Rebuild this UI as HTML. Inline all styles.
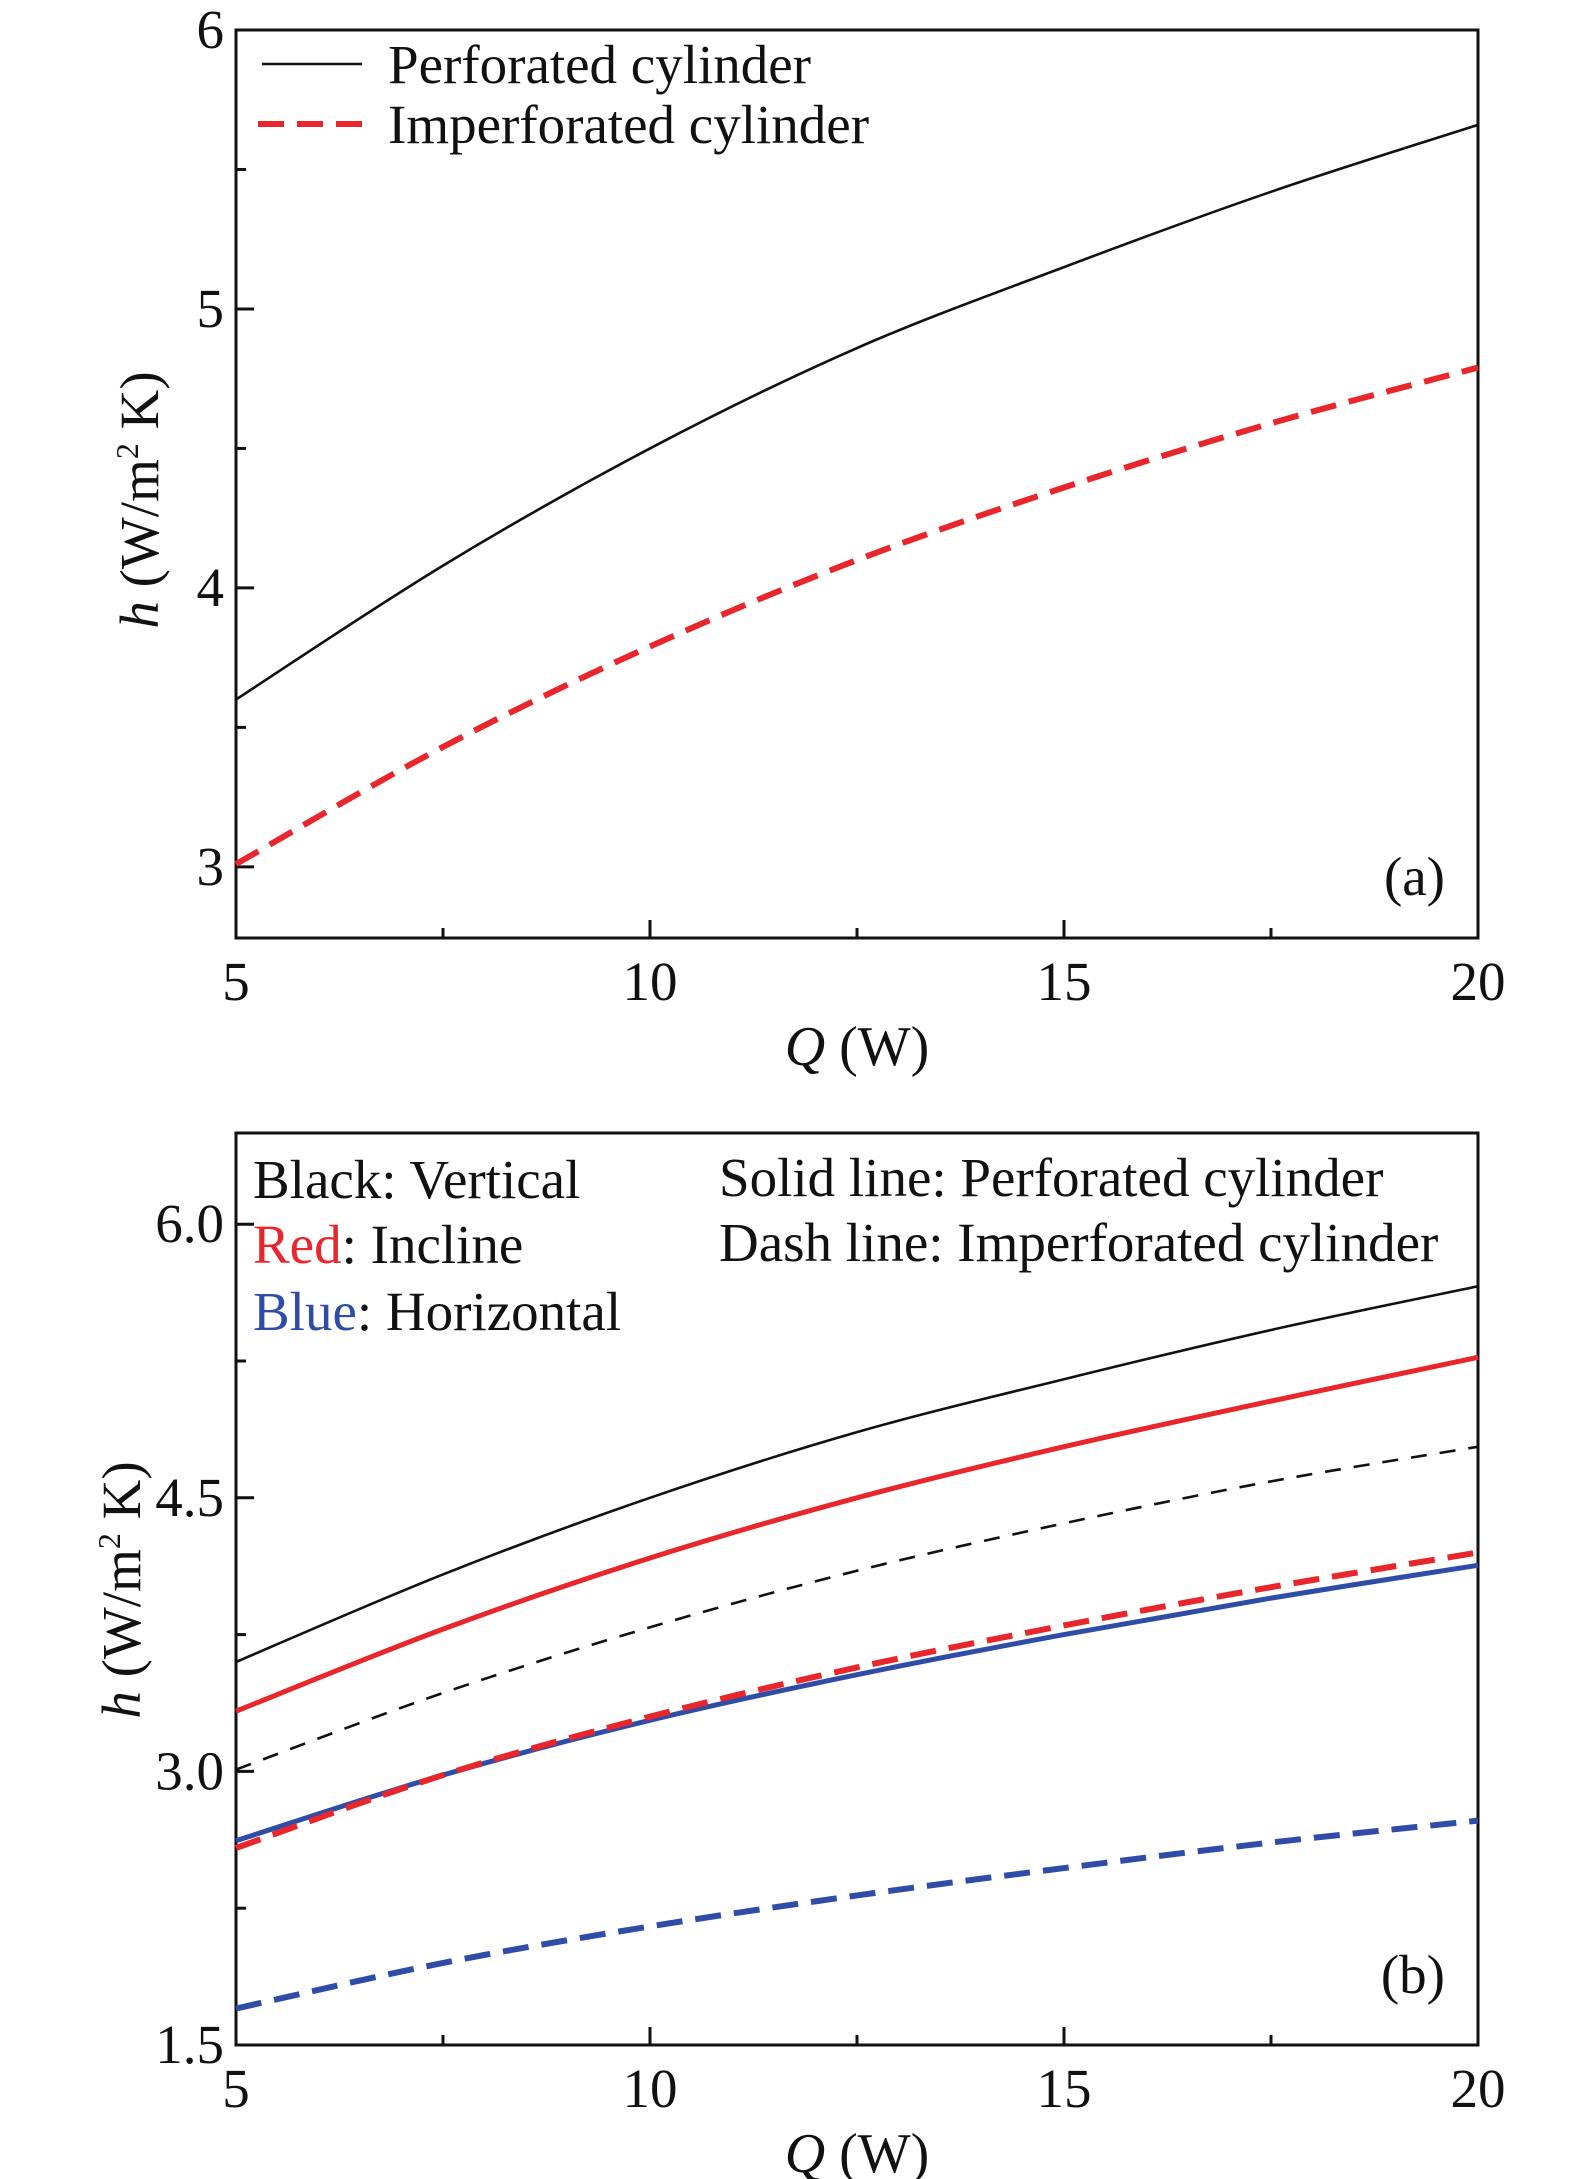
<!DOCTYPE html>
<html><head><meta charset="utf-8"><style>
html,body{margin:0;padding:0;background:#fff;}
svg{display:block;font-family:"Liberation Serif",serif;}
</style></head><body>
<svg id="fig" width="1575" height="2179" viewBox="0 0 1575 2179" xmlns="http://www.w3.org/2000/svg">
<g id="pa"></g>
<g id="pb"></g>
</svg>
<script>
const xValues = [5, 7.5, 10, 12.5, 15, 17.5, 20];
// panel a
const aPerforated   = [3.60, 4.08, 4.50, 4.86, 5.15, 5.42, 5.66];
const aImperforated = [3.01, 3.43, 3.79, 4.10, 4.36, 4.59, 4.79];
const aYTicks = [3, 4, 5, 6];
const aYMinor = [3.5, 4.5, 5.5];
// panel b
const bVertSolid  = [3.60, 4.08, 4.50, 4.86, 5.15, 5.42, 5.66];
const bVertDash   = [3.01, 3.43, 3.79, 4.10, 4.36, 4.59, 4.78];
const bInclSolid  = [3.33, 3.78, 4.17, 4.50, 4.78, 5.03, 5.27];
const bInclDash   = [2.58, 2.98, 3.30, 3.57, 3.80, 4.01, 4.20];
const bHorSolid   = [2.62, 2.98, 3.28, 3.53, 3.75, 3.95, 4.13];
const bHorDash    = [1.70, 1.95, 2.15, 2.32, 2.47, 2.61, 2.73];
const bYTicks = [1.5, 3.0, 4.5, 6.0];
const bYTickLabels = ["1.5", "3.0", "4.5", "6.0"];
const bYMinor = [2.25, 3.75, 5.25];
const xTicks = [5, 10, 15, 20];
const xMinor = [7.5, 12.5, 17.5];

const NS = "http://www.w3.org/2000/svg";
const RED = "#e8262b", BLUE = "#2f4da6";
function mk(tag, attrs, parent, text){
  const e = document.createElementNS(NS, tag);
  for (const k in attrs) e.setAttribute(k, attrs[k]);
  if (text !== undefined) e.textContent = text;
  parent.appendChild(e); return e;
}
function curve(xs, ys){
  let d = "M" + xs[0] + "," + ys[0];
  for (let i = 0; i < xs.length - 1; i++){
    const x0 = xs[Math.max(i-1,0)], y0 = ys[Math.max(i-1,0)];
    const x1 = xs[i], y1 = ys[i], x2 = xs[i+1], y2 = ys[i+1];
    const x3 = xs[Math.min(i+2,xs.length-1)], y3 = ys[Math.min(i+2,xs.length-1)];
    d += " C" + (x1+(x2-x0)/6) + "," + (y1+(y2-y0)/6) + " " + (x2-(x3-x1)/6) + "," + (y2-(y3-y1)/6) + " " + x2 + "," + y2;
  }
  return d;
}
function panel(g, cfg){
  const L = 236, R = 1478, T = cfg.top, B = cfg.bottom;
  const sx = v => L + (v - 5) / 15 * (R - L);
  const sy = v => B - (v - cfg.ymin) / (cfg.ymax - cfg.ymin) * (B - T);
  const frame = mk("rect", {x:L, y:T, width:R-L, height:B-T, fill:"none", stroke:"#111", "stroke-width":3}, g);
  
  
  cfg.yTicks.forEach((v, i) => {
    const t = mk("line", {x1:L, x2:L+18, y1:sy(v), y2:sy(v), stroke:"#111", "stroke-width":3}, g);
    
    
    const lb = mk("text", {x:L-12, y:sy(v)+18, "font-size":55, "text-anchor":"end", fill:"#111"}, g, cfg.yLabels[i]);
    
    
  });
  cfg.yMinor.forEach(v => {
    const t = mk("line", {x1:L, x2:L+10, y1:sy(v), y2:sy(v), stroke:"#111", "stroke-width":3}, g);
    
    
  });
  xTicks.forEach(v => {
    const t = mk("line", {x1:sx(v), x2:sx(v), y1:B, y2:B-18, stroke:"#111", "stroke-width":3}, g);
    
    
    const lb = mk("text", {x:sx(v), y:B+62, "font-size":55, "text-anchor":"middle", fill:"#111"}, g, String(v));
    
    
  });
  xMinor.forEach(v => {
    const t = mk("line", {x1:sx(v), x2:sx(v), y1:B, y2:B-10, stroke:"#111", "stroke-width":3}, g);
    
    
  });
  const xt = mk("text", {x:sx(12.5), y:B+127, "font-size":56, "text-anchor":"middle", fill:"#111"}, g);
  
  
  mk("tspan", {"font-style":"italic"}, xt, "Q");
  mk("tspan", {}, xt, " (W)");
  const yt = mk("text", {transform:"translate(" + cfg.ytx + "," + cfg.yty + ") rotate(-90)", "font-size":55, "text-anchor":"middle", fill:"#111"}, g);
  
  
  mk("tspan", {"font-style":"italic"}, yt, "h");
  mk("tspan", {}, yt, " (W/m");
  mk("tspan", {"font-size":32, dy:-20}, yt, "2");
  mk("tspan", {dy:20}, yt, " K)");
  cfg.series.forEach(s => {
    const p = mk("path", {d:curve(xValues.map(sx), s.data.map(sy)), fill:"none", stroke:s.color, "stroke-width":s.w, "stroke-dasharray":s.dash || "none"}, g);
    
    
  });
  const pl = mk("text", {x:1445, y:cfg.panelY, "font-size":55, "text-anchor":"end", fill:"#111"}, g, cfg.panelLabel);
  
  
}
const ga = document.getElementById("pa");
panel(ga, {top:30, bottom:938, ymin:2.745, ymax:6.0, yTicks:aYTicks, yLabels:aYTicks.map(String), yMinor:aYMinor,
  ytx:158, yty:500, panelLabel:"(a)", panelY:895,
  series:[
    {name:"perforated-line", data:aPerforated, color:"#111", w:2.6},
    {name:"imperforated-line", data:aImperforated, color:RED, w:6, dash:"26 13"}
  ]});
let e;
e = mk("line", {x1:262, x2:362, y1:64, y2:64, stroke:"#111", "stroke-width":2.6}, ga);


e = mk("text", {x:388, y:83, "font-size":55, fill:"#111"}, ga, "Perforated cylinder");


e = mk("line", {x1:258, x2:366, y1:124, y2:124, stroke:RED, "stroke-width":6, "stroke-dasharray":"26 13"}, ga);


e = mk("text", {x:388, y:143, "font-size":55, fill:"#111"}, ga, "Imperforated cylinder");



const gb = document.getElementById("pb");
panel(gb, {top:1133, bottom:2045, ymin:1.5, ymax:6.5, yTicks:bYTicks, yLabels:bYTickLabels, yMinor:bYMinor,
  ytx:140, yty:1590, panelLabel:"(b)", panelY:1993,
  series:[
    {name:"vertical-perforated-line", data:bVertSolid, color:"#111", w:2.6},
    {name:"vertical-imperforated-line", data:bVertDash, color:"#111", w:2.6, dash:"16 13"},
    {name:"incline-perforated-line", data:bInclSolid, color:RED, w:5},
    {name:"horizontal-perforated-line", data:bHorSolid, color:BLUE, w:5},
    {name:"incline-imperforated-line", data:bInclDash, color:RED, w:6, dash:"26 13"},
    {name:"horizontal-imperforated-line", data:bHorDash, color:BLUE, w:6, dash:"26 13"}
  ]});
const legB = [
  [253, 1198, [["Black", "#111"], [": Vertical", "#111"]], "legend-black-vertical"],
  [253, 1263, [["Red", RED], [": Incline", "#111"]], "legend-red-incline"],
  [253, 1330, [["Blue", BLUE], [": Horizontal", "#111"]], "legend-blue-horizontal"],
  [719, 1196, [["Solid line: Perforated cylinder", "#111"]], "legend-solid-line"],
  [719, 1261, [["Dash line: Imperforated cylinder", "#111"]], "legend-dash-line"]
];
legB.forEach(l => {
  const t = mk("text", {x:l[0], y:l[1], "font-size":55}, gb);
  
  
  l[2].forEach(p => mk("tspan", {fill:p[1]}, t, p[0]));
});
</script>
</body></html>
